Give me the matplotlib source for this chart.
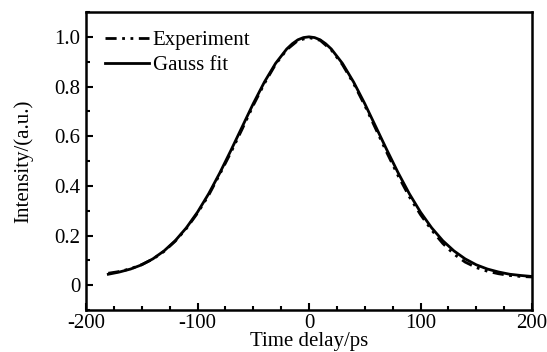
import matplotlib
matplotlib.use("Agg")
import matplotlib.pyplot as plt
from matplotlib.ticker import MultipleLocator

plt.rcParams['font.family'] = ['Liberation Serif', 'DejaVu Serif']
plt.rcParams['axes.unicode_minus'] = False

x_fit = [-180, -170, -160, -150, -140, -130, -120, -110, -100, -90, -80, -70, -60, -50,
         -40, -30, -20, -15, -10, -5, 0, 5, 10, 15, 20, 30, 40, 50, 60, 70, 80, 90, 100, 110, 120,
         130, 140, 150, 160, 170, 180, 190, 200]
y_fit = [0.044, 0.053, 0.065, 0.082, 0.106, 0.138, 0.179, 0.231, 0.294, 0.368, 0.452,
         0.543, 0.637, 0.731, 0.818, 0.893, 0.951, 0.972, 0.988, 0.997, 1.000, 0.997, 0.988,
         0.972, 0.951, 0.893,
         0.818, 0.731, 0.637, 0.543, 0.452, 0.368, 0.294, 0.231, 0.179, 0.138, 0.106,
         0.082, 0.065, 0.053, 0.044, 0.039, 0.035]

x_exp = [-180, -170, -160, -150, -140, -130, -120, -110, -100, -90, -80, -70, -60, -50,
         -40, -30, -20, -10, 0, 10, 20, 30, 40, 50, 60, 70, 80, 90, 100, 110, 120,
         130, 140, 150, 160, 170, 180, 190, 200]
y_exp = [0.048, 0.055, 0.066, 0.083, 0.105, 0.136, 0.177, 0.228, 0.290, 0.362, 0.447,
         0.535, 0.628, 0.724, 0.812, 0.889, 0.948, 0.985, 0.997, 0.986, 0.947, 0.888,
         0.812, 0.724, 0.628, 0.532, 0.440, 0.356, 0.284, 0.222, 0.168, 0.125, 0.093,
         0.071, 0.056, 0.046, 0.039, 0.035, 0.033]

x_ticks = [-200, -100, 0, 100, 200]
y_ticks = [0, 0.2, 0.4, 0.6, 0.8, 1.0]
y_ticklabels = ['0', '0.2', '0.4', '0.6', '0.8', '1.0']

fig = plt.figure(figsize=(5.47, 3.52), dpi=100)
ax = fig.add_axes([86/547, 1 - 310/352, (532-86)/547, (310-12)/352])

ax.plot(x_exp, y_exp, color='black', lw=2.0, linestyle=(0, (4, 2, 1, 2, 1, 2)), label='Experiment')
ax.plot(x_fit, y_fit, color='black', lw=2.0, linestyle='-', label='Gauss fit')

ax.set_xlim(-200, 200)
ax.set_ylim(-0.1, 1.1)
ax.set_xticks(x_ticks)
ax.set_yticks(y_ticks)
ax.set_yticklabels(y_ticklabels)
ax.xaxis.set_minor_locator(MultipleLocator(25))
ax.yaxis.set_minor_locator(MultipleLocator(0.1))
ax.tick_params(which='both', direction='in', top=False, right=False, labelsize=15, width=1.5)
ax.tick_params(which='major', length=5, pad=4)
ax.tick_params(axis='x', which='major', pad=3)
ax.tick_params(which='minor', length=3)
for s in ax.spines.values():
    s.set_linewidth(1.8)

ax.set_xlabel('Time delay/ps', fontsize=15, labelpad=-1)
ax.set_ylabel('Intensity/(a.u.)', fontsize=15, labelpad=15)

ax.legend(loc='upper left', frameon=False, fontsize=15, handlelength=2.1,
          handletextpad=0.2, borderaxespad=0.5, labelspacing=0.25)

fig.savefig('out.png', dpi=100)
